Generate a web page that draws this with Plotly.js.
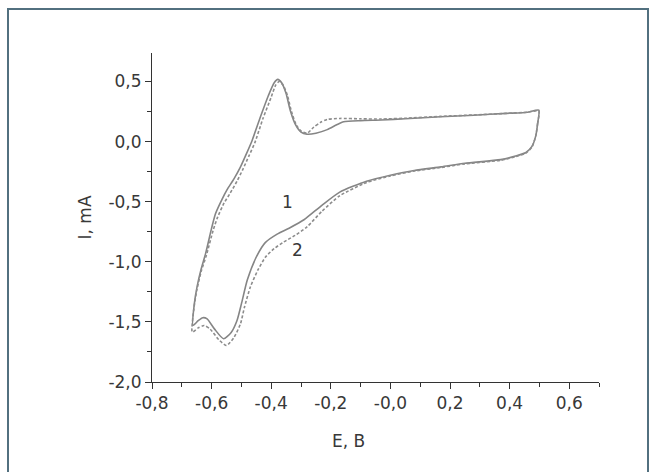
<!DOCTYPE html>
<html>
<head>
<meta charset="utf-8">
<script src="https://cdn.plot.ly/plotly-3.0.1.min.js"></script>
<style>
  html, body { margin: 0; padding: 0; background: #fff; }
  #wrap { position: relative; width: 656px; height: 472px; }
  #chart { position: absolute; left: 0; top: 0; width: 656px; height: 472px; }
  #frame { position: absolute; left: 7px; top: 8px; width: 638px; height: 462px;
           border: 2px solid #52707f; pointer-events: none; }
</style>
</head>
<body>
<div id="wrap">
  <div id="chart"></div>
  <div id="frame"></div>
</div>
<script>
// Curve 1 (solid): potential E (V) and current I (mA)
const curve1E = [0.498, 0.494, 0.488, 0.475, 0.455, 0.42, 0.37, 0.25, 0.17, 0.08, 0.0, -0.08, -0.17, -0.23, -0.29, -0.34, -0.38, -0.42, -0.45, -0.48, -0.50, -0.515, -0.535, -0.56, -0.59, -0.615, -0.63, -0.645, -0.663,
  -0.658, -0.649, -0.635, -0.62, -0.60, -0.587, -0.565, -0.548, -0.525, -0.503, -0.483, -0.464, -0.436, -0.41, -0.39, -0.378, -0.365, -0.35, -0.336, -0.318, -0.30, -0.28, -0.25, -0.212, -0.18, -0.157, -0.10, -0.03, 0.05, 0.168, 0.28, 0.39, 0.46, 0.498];
const curve1I = [0.262, 0.15, 0.05, -0.04, -0.09, -0.12, -0.15, -0.18, -0.21, -0.24, -0.28, -0.33, -0.42, -0.53, -0.65, -0.72, -0.77, -0.84, -0.96, -1.15, -1.35, -1.49, -1.59, -1.64, -1.56, -1.475, -1.465, -1.49, -1.53,
  -1.35, -1.21, -1.06, -0.93, -0.72, -0.60, -0.48, -0.40, -0.31, -0.21, -0.10, 0.01, 0.207, 0.38, 0.49, 0.518, 0.49, 0.40, 0.26, 0.14, 0.08, 0.062, 0.07, 0.10, 0.14, 0.165, 0.175, 0.18, 0.19, 0.207, 0.22, 0.235, 0.245, 0.262];

// Curve 2 (dashed)
const curve2E = [0.498, 0.494, 0.488, 0.475, 0.455, 0.42, 0.37, 0.25, 0.17, 0.08, 0.0, -0.08, -0.17, -0.23, -0.28, -0.32, -0.358, -0.39, -0.419, -0.445, -0.47, -0.49, -0.503, -0.525, -0.55, -0.575, -0.605, -0.625, -0.645, -0.665,
  -0.66, -0.65, -0.635, -0.618, -0.595, -0.58, -0.558, -0.538, -0.515, -0.495, -0.475, -0.455, -0.428, -0.40, -0.385, -0.373, -0.36, -0.345, -0.332, -0.315, -0.298, -0.28, -0.257, -0.235, -0.212, -0.17, -0.10, -0.03, 0.05, 0.168, 0.28, 0.39, 0.46, 0.498];
const curve2I = [0.255, 0.15, 0.05, -0.045, -0.095, -0.125, -0.155, -0.185, -0.215, -0.245, -0.285, -0.34, -0.45, -0.58, -0.71, -0.78, -0.835, -0.89, -0.96, -1.07, -1.21, -1.38, -1.515, -1.63, -1.696, -1.65, -1.56, -1.53, -1.55, -1.585,
  -1.40, -1.24, -1.08, -0.95, -0.74, -0.63, -0.51, -0.43, -0.33, -0.23, -0.12, -0.01, 0.19, 0.37, 0.47, 0.50, 0.47, 0.38, 0.25, 0.135, 0.085, 0.07, 0.12, 0.16, 0.185, 0.193, 0.19, 0.188, 0.195, 0.21, 0.222, 0.235, 0.245, 0.255];

const xTickVals = [-0.8, -0.6, -0.4, -0.2, 0.0, 0.2, 0.4, 0.6];
const xTickText = ['-0,8', '-0,6', '-0,4', '-0,2', '-0,0', '0,2', '0,4', '0,6'];
const yTickVals = [0.5, 0.0, -0.5, -1.0, -1.5, -2.0];
const yTickText = ['0,5', '0,0', '-0,5', '-1,0', '-1,5', '-2,0'];

const curveLabels = ['1', '2'];
const curveLabelE = [-0.346, -0.313];
const curveLabelI = [-0.504, -0.898];

const xTitle = 'E, B';
const yTitle = 'I, mA';

const font = {family: '"DejaVu Sans", "Open Sans", sans-serif', size: 17, color: '#383838'};

const traces = [
  {x: curve1E, y: curve1I, mode: 'lines', type: 'scatter',
   line: {color: '#858585', width: 1.6, shape: 'spline', smoothing: 0.6}, hoverinfo: 'skip'},
  {x: curve2E, y: curve2I, mode: 'lines', type: 'scatter',
   line: {color: '#8c8c8c', width: 1.6, dash: '3px,2px', shape: 'spline', smoothing: 0.6}, hoverinfo: 'skip'}
];

const annotations = curveLabels.map((t, i) => ({
  x: curveLabelE[i], y: curveLabelI[i], xref: 'x', yref: 'y', text: t,
  showarrow: false, font: font
}));
annotations.push({x: 0.44, y: -0.18, xref: 'paper', yref: 'paper', text: xTitle,
  showarrow: false, font: font, xanchor: 'center', yanchor: 'middle'});
annotations.push({x: -0.15, y: 0.5, xref: 'paper', yref: 'paper', text: yTitle,
  showarrow: false, font: font, textangle: -90, xanchor: 'center', yanchor: 'middle'});

const layout = {
  width: 656, height: 472,
  margin: {l: 152, r: 57, t: 53, b: 90},
  paper_bgcolor: '#fff', plot_bgcolor: '#fff',
  showlegend: false,
  font: font,
  xaxis: {
    range: [-0.8, 0.7], showgrid: false, zeroline: false,
    showline: true, linecolor: '#333', linewidth: 1,
    ticks: 'outside', ticklen: 6, tickcolor: '#333', tickwidth: 1,
    tickvals: xTickVals, ticktext: xTickText, tickfont: font,
    minor: {dtick: 0.1, tick0: 0, ticks: 'outside', ticklen: 4, tickcolor: '#333', showgrid: false}
  },
  yaxis: {
    range: [-2.0, 0.7375], showgrid: false, zeroline: false,
    showline: true, linecolor: '#333', linewidth: 1,
    ticks: 'outside', ticklen: 6, tickcolor: '#333', tickwidth: 1,
    tickvals: yTickVals, ticktext: yTickText, tickfont: font,
    minor: {dtick: 0.25, tick0: 0, ticks: 'outside', ticklen: 4, tickcolor: '#333', showgrid: false}
  },
  annotations: annotations
};

Plotly.newPlot('chart', traces, layout, {displayModeBar: false, staticPlot: true});
</script>
</body>
</html>
